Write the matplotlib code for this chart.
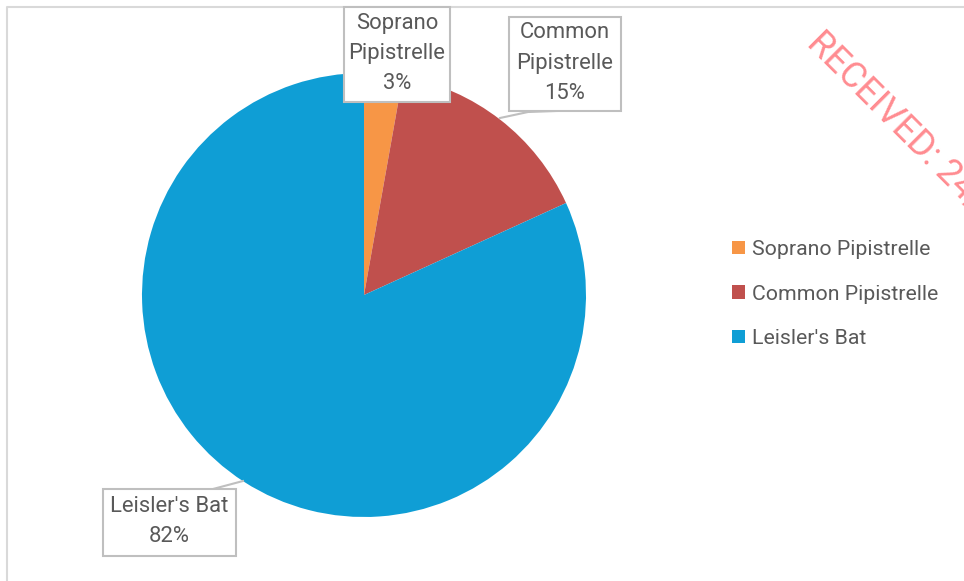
import matplotlib.pyplot as plt
from matplotlib.patches import Rectangle

# datos
species = ["Soprano Pipistrelle", "Common Pipistrelle", "Leisler's Bat"]
box_names = ["Soprano\nPipistrelle", "Common\nPipistrelle", "Leisler's Bat"]
values = [2.8, 15.4, 81.8]
colors = ["#F79646", "#C0504D", "#0F9ED5"]

W, H = 964, 581
plt.rcParams["font.family"] = ["Roboto", "DejaVu Sans"]

fig = plt.figure(figsize=(W / 100, H / 100), dpi=100)
ax = fig.add_axes([0, 0, 1, 1])

# borde del area del grafico
ax.plot([7, 7, W + 5], [-5, H - 7, H - 7], color="#D9D9D9", lw=1.5, zorder=1)

cx, cy, r = 364, H - 295, 222
wedges, _ = ax.pie(values, colors=colors, startangle=90, counterclock=False,
                   center=(cx, cy), radius=r, frame=True,
                   wedgeprops=dict(linewidth=0))
ax.set_xlim(0, W)
ax.set_ylim(0, H)
ax.set_aspect("equal")
ax.axis("off")

# etiquetas con cajas (x0, y0 arriba, ancho, alto) en pixeles
boxes = [(344, 7, 106, 95), (509, 17, 112, 94), (103, 489, 133, 67)]
leaders = [None, [(500, 118), (528, 112), (556, 111)], [(243, 481), (213, 489)]]
total = sum(values)
for name, v, (bx, by, bw, bh), ld in zip(box_names, values, boxes, leaders):
    if ld is not None:
        xs = [p[0] for p in ld]
        ys = [H - p[1] for p in ld]
        ax.plot(xs, ys, color="#BFBFBF", lw=1.5, zorder=3)
    ax.add_patch(Rectangle((bx, H - by - bh), bw, bh, facecolor="white",
                           edgecolor="#BFBFBF", lw=1.5, zorder=4))
    ax.text(bx + bw / 2, H - (by + bh / 2) + 1, f"{name}\n{v / total * 100:.0f}%",
            ha="center", va="center", fontsize=15.8, color="#595959",
            linespacing=1.57, zorder=5)

leg = ax.legend(wedges, species, loc="center left",
                bbox_to_anchor=(713 / W, 1 - 294 / H), frameon=False,
                fontsize=15.3, labelcolor="#595959", handlelength=0.6,
                handleheight=0.6, handletextpad=0.35, labelspacing=1.2)

# marca de agua
ax.text(806, H - 44, "RECEIVED: 24/10/2024", rotation=-45,
        rotation_mode="anchor", ha="left", va="baseline",
        fontsize=26, color="#FF6F75", alpha=0.8, zorder=6)

fig.savefig("out.png", dpi=100)
